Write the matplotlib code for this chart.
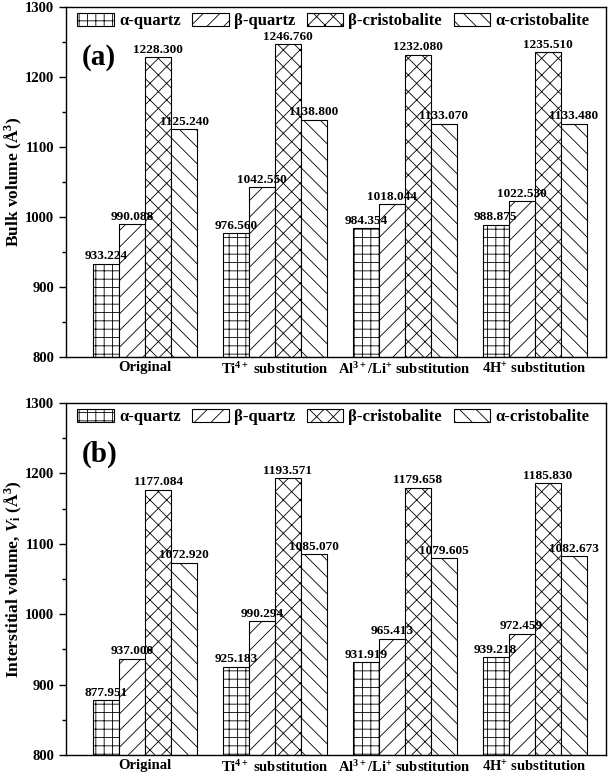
import numpy as np
import matplotlib
matplotlib.use("Agg")
import matplotlib.pyplot as plt
from matplotlib.ticker import MultipleLocator

plt.rcParams['font.family'] = ['Liberation Serif', 'DejaVu Serif']
plt.rcParams['font.weight'] = 'bold'
plt.rcParams['mathtext.fontset'] = 'custom'
plt.rcParams['mathtext.rm'] = 'Liberation Serif:bold'
plt.rcParams['mathtext.bf'] = 'Liberation Serif:bold'
plt.rcParams['mathtext.it'] = 'Liberation Serif:italic:bold'
plt.rcParams['hatch.linewidth'] = 0.6

# %% data
groups = ['Original', 'Ti$^{4+}$ substitution', 'Al$^{3+}$/Li$^{+}$ substitution', '4H$^{+}$ substitution']
phases = ['α-quartz', 'β-quartz', 'β-cristobalite', 'α-cristobalite']

bulk_a_quartz = [933.224, 976.560, 984.354, 988.875]
bulk_b_quartz = [990.088, 1042.550, 1018.044, 1022.530]
bulk_b_crist = [1228.300, 1246.760, 1232.080, 1235.510]
bulk_a_crist = [1125.240, 1138.800, 1133.070, 1133.480]

inter_a_quartz = [877.951, 925.183, 931.919, 939.218]
inter_b_quartz = [937.000, 990.294, 965.413, 972.459]
inter_b_crist = [1177.084, 1193.571, 1179.658, 1185.830]
inter_a_crist = [1072.920, 1085.070, 1079.605, 1082.673]

hatches = ['++', '//', 'xx', '\\\\']

# %% plot
fig = plt.figure(figsize=(6.14, 7.77), dpi=100)
ax_a = fig.add_axes([0.1075, 0.5405, 0.8795, 0.4505])
ax_b = fig.add_axes([0.1075, 0.0283, 0.8795, 0.453])

x = np.arange(len(groups))
w = 0.2

panels = [
    (ax_a, [bulk_a_quartz, bulk_b_quartz, bulk_b_crist, bulk_a_crist], 'Bulk volume (Å$^3$)', '(a)'),
    (ax_b, [inter_a_quartz, inter_b_quartz, inter_b_crist, inter_a_crist],
     'Interstitial volume, $V_\\mathrm{i}$ (Å$^3$)', '(b)'),
]

for ax, series, ylabel, tag in panels:
    for i, vals in enumerate(series):
        pos = x + (i - 1.5) * w
        ax.bar(pos, np.array(vals) - 800, w, bottom=800, color='white',
               edgecolor='black', linewidth=0.8, hatch=hatches[i], label=phases[i])
        for p, v in zip(pos, vals):
            ax.text(p, v + 2, f"{v:.3f}", ha='center', va='bottom', fontsize=9.5, fontweight='bold')
    ax.set_ylim(800, 1300)
    ax.set_xlim(-0.61, 3.55)
    ax.yaxis.set_major_locator(MultipleLocator(100))
    ax.yaxis.set_minor_locator(MultipleLocator(50))
    ax.tick_params(axis='y', which='major', length=5, width=1, labelsize=10.5)
    ax.tick_params(axis='y', which='minor', length=3, width=1)
    ax.tick_params(axis='x', length=0, labelsize=10.5, pad=3)
    ax.set_xticks(x)
    ax.set_xticklabels(groups, fontweight='bold')
    for lab in ax.get_yticklabels():
        lab.set_fontweight('bold')
    ax.set_ylabel(ylabel, fontsize=12.5, fontweight='bold')
    ax.yaxis.set_label_coords(-0.077, 0.5)
    for s in ax.spines.values():
        s.set_linewidth(1.0)
    ax.text(0.03, 0.855, tag, transform=ax.transAxes, fontsize=21, fontweight='bold', va='center')
    ax.legend(loc='upper center', bbox_to_anchor=(0.495, 1.025), ncol=4, frameon=False,
              prop={'size': 12, 'weight': 'bold'}, handlelength=2.2, handleheight=0.8,
              columnspacing=0.7, handletextpad=0.3)

fig.savefig("out.png", dpi=100)
